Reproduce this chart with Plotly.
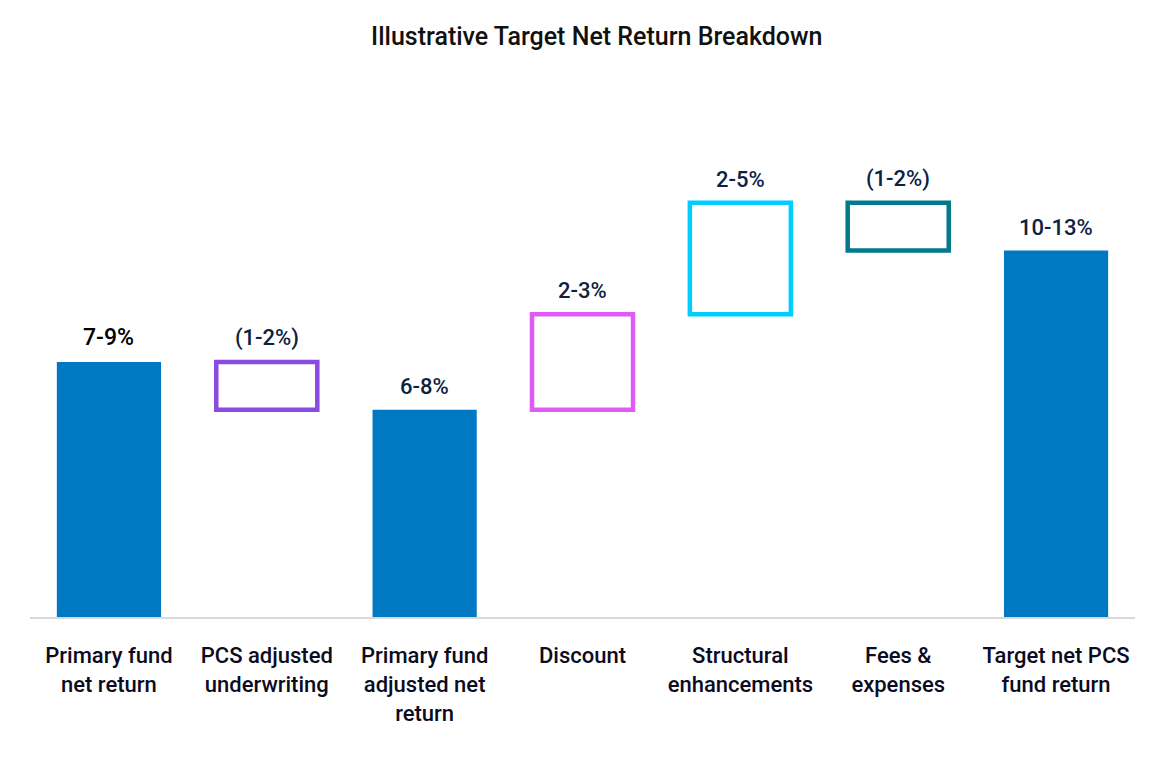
import plotly.graph_objects as go

categories = ['Primary fund<br>net return', 'PCS adjusted<br>underwriting',
              'Primary fund<br>adjusted net<br>return', 'Discount',
              'Structural<br>enhancements', 'Fees &<br>expenses',
              'Target net PCS<br>fund return']
# midpoint of each range, in % points
values = [8, -1.5, 6.5, 3, 3.5, -1.5, 11.5]
kinds = ['total', 'step', 'total', 'step', 'step', 'step', 'total']
value_labels = ['7-9%', '(1-2%)', '6-8%', '2-3%', '2-5%', '(1-2%)', '10-13%']
outline_colors = [None, '#8A4BE0', None, '#E05AF5', '#00CDFF', '#037A8B', None]

blue = '#0079C2'
navy = '#0D2241'
font = 'Roboto, sans-serif'

# work out bar bases and tops from the running total
bases, heights, tops = [], [], []
running = 0
for v, k in zip(values, kinds):
    if k == 'total':
        bases.append(0)
        heights.append(v)
        running = v
    else:
        start = running
        running = running + v
        bases.append(min(start, running))
        heights.append(abs(v))
    tops.append(bases[-1] + heights[-1])

fig = go.Figure()

tot_idx = [i for i, k in enumerate(kinds) if k == 'total']
fig.add_trace(go.Bar(
    x=[categories[i] for i in tot_idx],
    y=[heights[i] for i in tot_idx],
    base=[bases[i] for i in tot_idx],
    marker=dict(color=blue, line=dict(width=0)),
    width=0.66,
    hoverinfo='skip',
))

step_idx = [i for i, k in enumerate(kinds) if k == 'step']
fig.add_trace(go.Bar(
    x=[categories[i] for i in step_idx],
    y=[heights[i] for i in step_idx],
    base=[bases[i] for i in step_idx],
    marker=dict(color='white', line=dict(color=[outline_colors[i] for i in step_idx], width=4.5)),
    width=0.64,
    hoverinfo='skip',
))

for i, cat in enumerate(categories):
    fig.add_annotation(
        x=cat, y=tops[i], text=value_labels[i], showarrow=False,
        yanchor='bottom', yshift=9,
        font=dict(family=font, size=23 if i == 0 else 22, weight=500,
                  color='#000000' if i == 0 else navy),
    )

fig.update_layout(
    width=1159, height=757,
    paper_bgcolor='white', plot_bgcolor='white',
    margin=dict(l=22, r=32, t=72, b=148),
    showlegend=False,
    barmode='overlay',
    title=dict(text='Illustrative Target Net Return Breakdown', x=0.508, xanchor='center',
               y=0.963, yanchor='middle',
               font=dict(family=font, size=25, weight=500, color='#111111')),
    font=dict(family=font, color=navy),
)
fig.update_xaxes(
    categoryorder='array', categoryarray=categories,
    showline=True, linecolor='#D9D9D9', linewidth=2,
    showgrid=False, ticks='', ticklabelstandoff=18,
    tickfont=dict(family=font, size=22, weight=500, color='#0B0B22'),
)
fig.update_yaxes(range=[0, 16.85], visible=False, showgrid=False, zeroline=False)

fig.write_html('out.html')
